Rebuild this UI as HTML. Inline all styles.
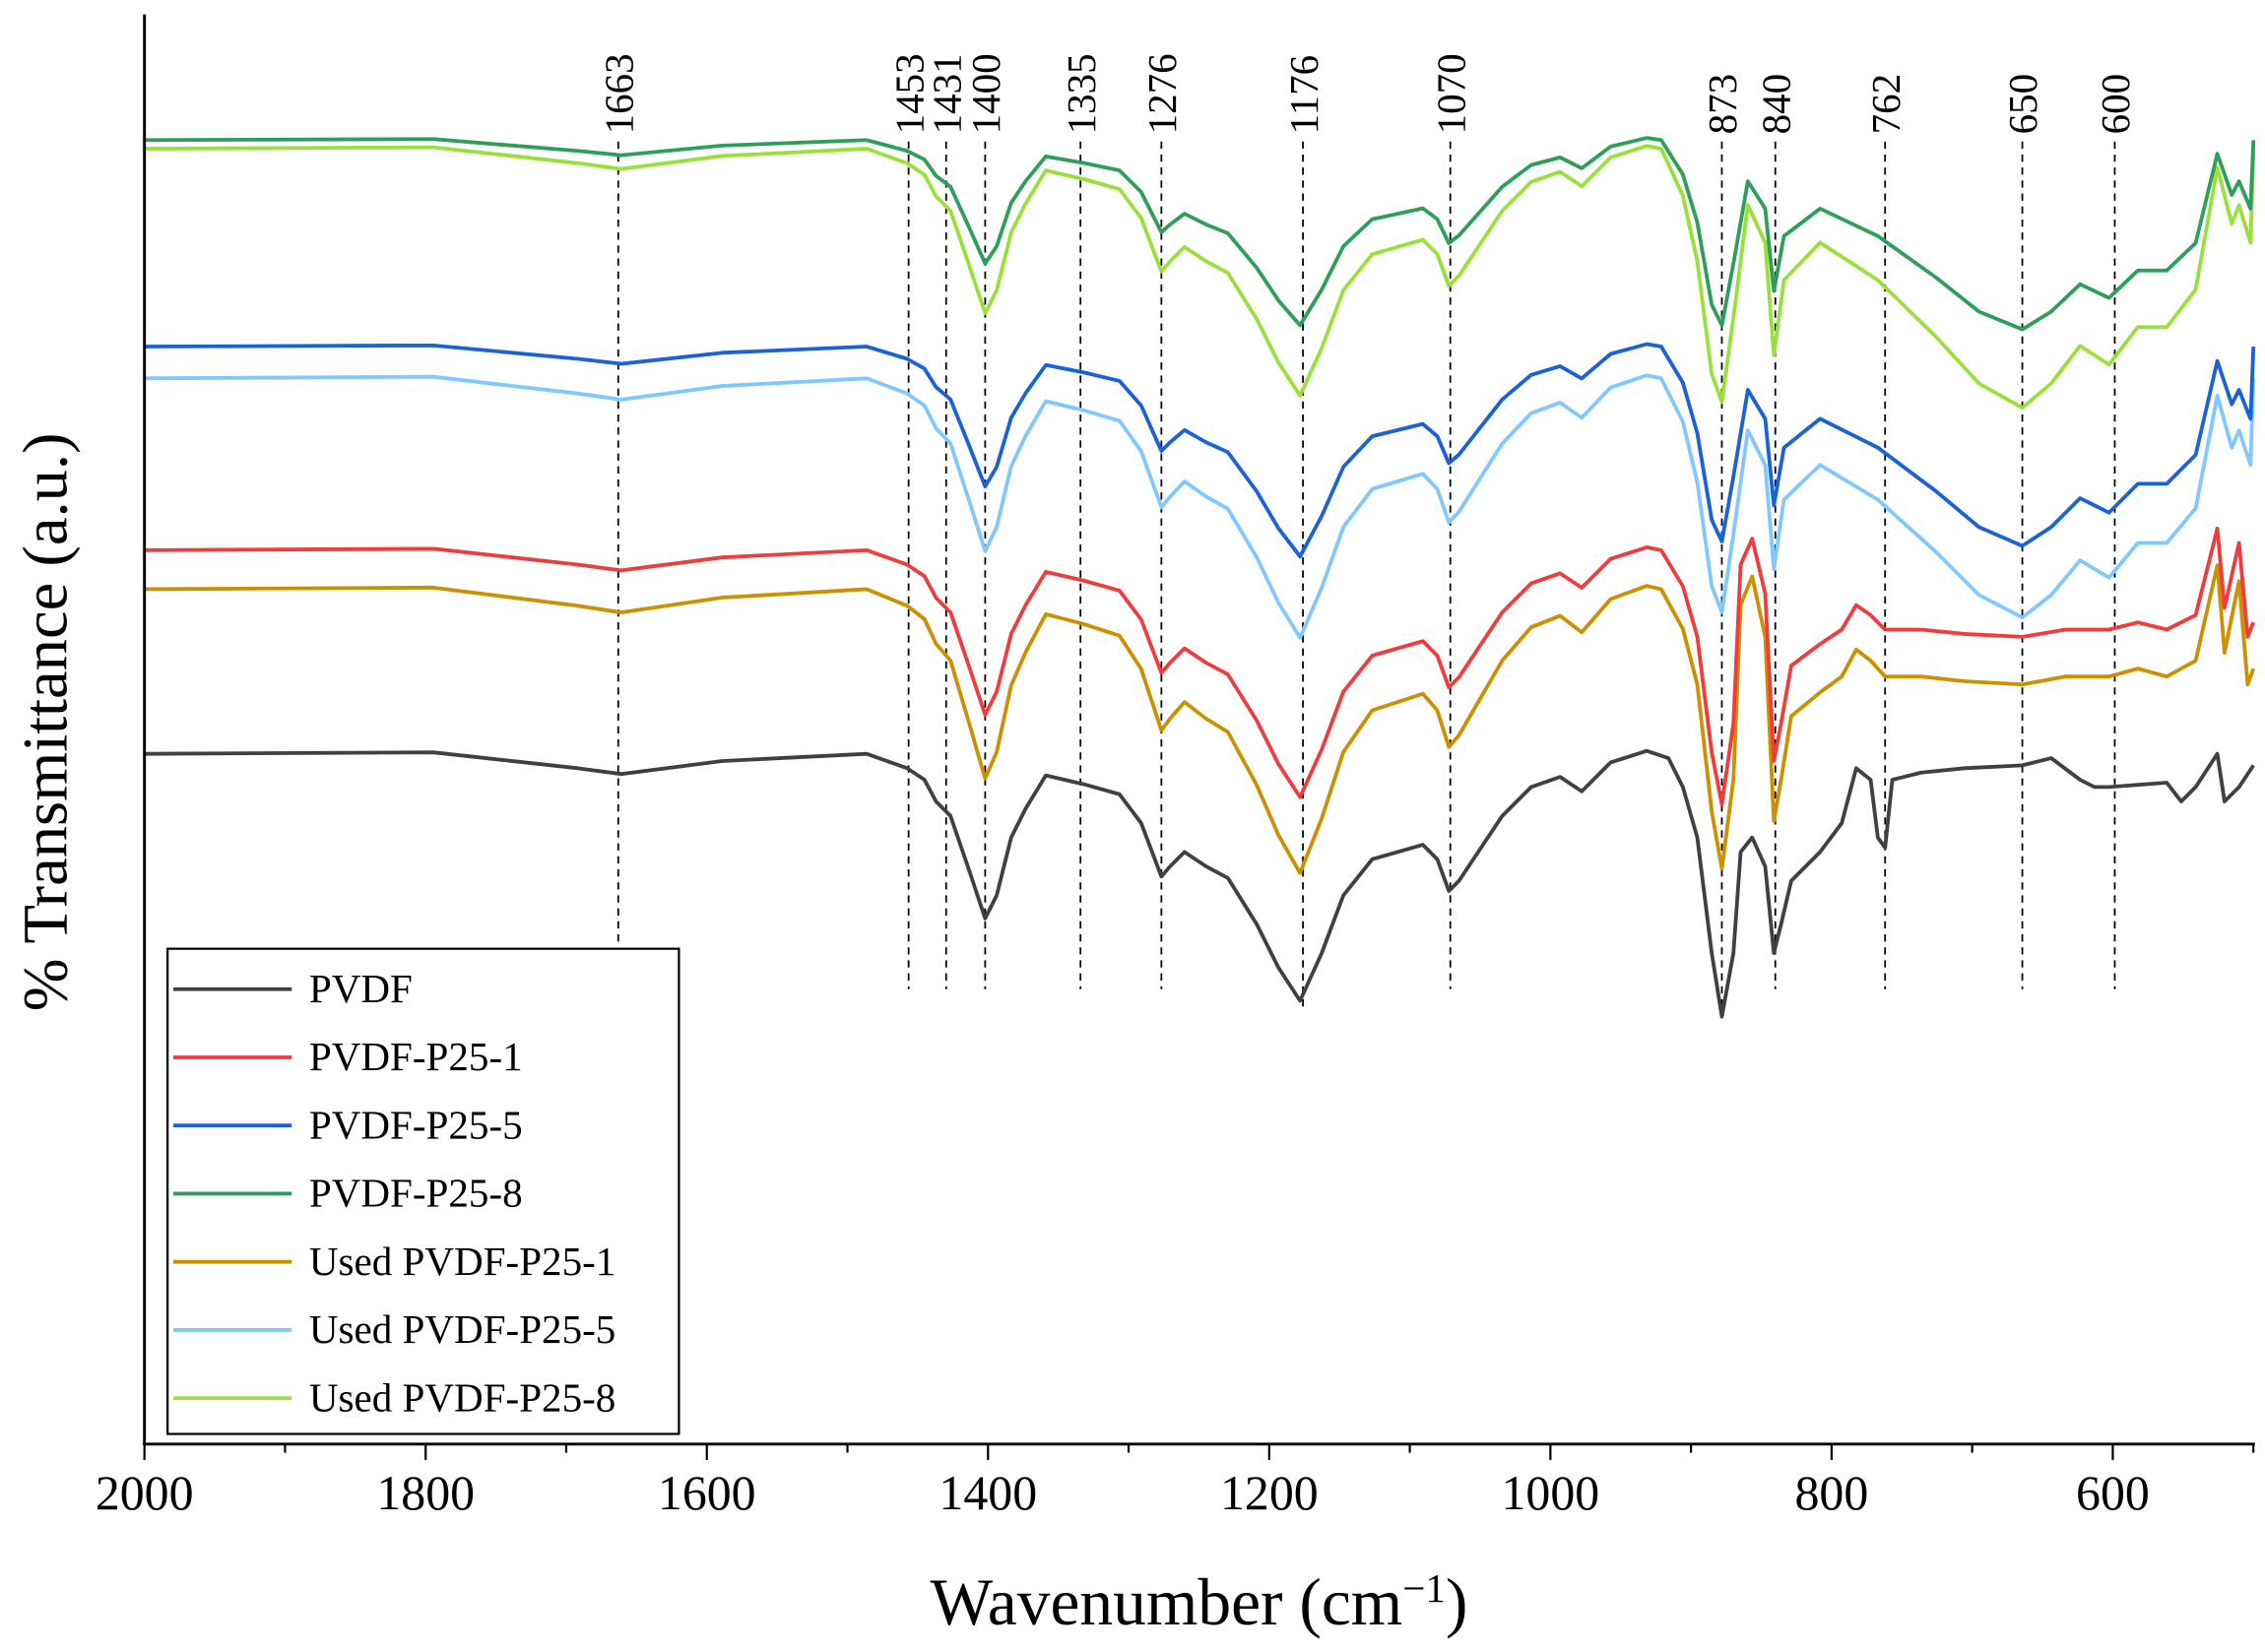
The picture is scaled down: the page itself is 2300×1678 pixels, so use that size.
<!DOCTYPE html>
<html><head><meta charset="utf-8"><style>
html,body{margin:0;padding:0;background:#fff;}
svg{display:block;}
text{font-family:"Liberation Serif",serif;fill:#000;}
</style></head><body>
<svg id="s" width="2300" height="1678" viewBox="0 0 1568 1144" preserveAspectRatio="none" xmlns="http://www.w3.org/2000/svg">
<g id="dash"></g>
<g id="curves" fill="none" stroke-width="2.6" stroke-linejoin="round"></g>
<line x1="100" y1="10" x2="100" y2="1000" stroke="#000" stroke-width="2"/>
<line x1="99" y1="1000" x2="1561" y2="1000" stroke="#000" stroke-width="2"/>
<g id="ticks"></g>
<text x="0" y="0" font-size="44" text-anchor="middle" transform="translate(46,500) rotate(-90)">% Transmittance (a.u.)</text>
<text x="830" y="1125" font-size="46" text-anchor="middle">Wavenumber (cm<tspan baseline-shift="super" font-size="28">−1</tspan>)</text>
<rect x="116" y="657" width="354" height="336" fill="#fff" stroke="#000" stroke-width="1.5"/>
<g id="legend"></g>
</svg>
<script>
var NS="http://www.w3.org/2000/svg";
function el(p,t,a,txt){var e=document.createElementNS(NS,t);for(var k in a)e.setAttribute(k,a[k]);if(txt!=null)e.textContent=txt;p.appendChild(e);return e;}
function X(w){return 100+(2000-w)*0.9733;}
var tk=document.getElementById('ticks');
for(var w=2000;w>=500;w-=100){var x=X(w);var maj=(w%200==0);
 el(tk,'line',{x1:x,y1:1000,x2:x,y2:maj?1011:1006,stroke:'#000','stroke-width':1.5});
 if(maj)el(tk,'text',{x:x,y:1045,'font-size':34,'text-anchor':'middle'},String(w));}
var peaks=[[1663,428,655],[1453,629,685],[1431,655,685],[1400,682,685],[1335,748,685],[1276,804,685],[1176,902,700],[1070,1004,685],[873,1192,700],[840,1229,685],[762,1305,685],[650,1400,685],[600,1464,685]];
var dg=document.getElementById('dash');
peaks.forEach(function(p){
 el(dg,'line',{x1:p[1],y1:98,x2:p[1],y2:p[2],stroke:'#000','stroke-width':1.2,'stroke-dasharray':'5,4'});
 el(dg,'text',{x:0,y:0,'font-size':28,transform:'translate('+(p[1]+10)+',93) rotate(-90)'},String(p[0]));
});
var pv=[[100,522],[300,521],[400,532],[430,536],[500,527],[600,522],[628,532],[640,540],[648,555],[658,565],[670,600],[682,636],[690,620],[700,580],[710,560],[724,537],[750,543],[775,550],[790,570],[804,607],[810,600],[820,590],[835,600],[850,608],[870,640],[885,670],[900,693],[915,660],[930,620],[950,595],[985,585],[995,595],[1003,617],[1010,610],[1020,595],[1040,565],[1060,545],[1080,538],[1095,548],[1105,538],[1115,528],[1140,520]];
var pvTail=[[1155,525],[1165,545],[1175,580],[1185,660],[1192,704],[1200,660],[1205,590],[1213,580],[1222,600],[1228,660],[1233,640],[1240,610],[1260,590],[1275,570],[1285,532],[1295,540],[1300,580],[1305,587],[1310,540],[1330,535],[1360,532],[1400,530],[1420,525],[1440,540],[1450,545],[1460,545],[1500,542],[1510,555],[1520,545],[1535,522],[1540,555],[1550,545],[1560,530]];
var redT=[[1150,0],[1165,25],[1175,60],[1185,140],[1192,176],[1200,120],[1205,10],[1213,-8],[1222,30],[1228,146],[1233,120],[1240,80],[1260,65],[1275,55],[1285,38],[1295,45],[1305,55],[1330,55],[1360,58],[1400,60],[1430,55],[1460,55],[1480,50],[1500,55],[1520,45],[1535,-15],[1540,40],[1550,-5],[1556,60],[1560,50]];
var blueT=[[1150,0],[1165,25],[1175,60],[1185,120],[1192,135],[1200,90],[1210,30],[1222,50],[1228,110],[1235,70],[1260,50],[1300,70],[1340,100],[1370,125],[1400,138],[1420,125],[1440,105],[1460,115],[1480,95],[1500,95],[1520,75],[1535,10],[1545,40],[1550,30],[1558,50],[1560,0]];
function build(base,s,tail,ts){var pts=pv.map(function(p){return [p[0],base+s*(p[1]-522)];});
 tail.forEach(function(p){pts.push([p[0],base+ts*p[1]]);});return pts;}
var series=[
 ['PVDF','#404040',pv.concat(pvTail)],
 ['PVDF-P25-1','#f03c3c',build(381,1.0,redT,1.0)],
 ['PVDF-P25-5','#1a62d6',build(240,0.85,blueT,1.0)],
 ['PVDF-P25-8','#2e9e5a',build(97,0.75,blueT,0.95)],
 ['Used PVDF-P25-1','#cc9000',build(408,1.15,redT,1.1)],
 ['Used PVDF-P25-5','#80c8ff',build(262,1.05,blueT,1.2)],
 ['Used PVDF-P25-8','#99e03a',build(103,1.0,blueT,1.3)]];
var cg=document.getElementById('curves');
var order=[5,6,4,0,1,2,3];
order.forEach(function(i){var sr=series[i];
 el(cg,'polyline',{points:sr[2].map(function(p){return p[0]+','+p[1].toFixed(1);}).join(' '),stroke:sr[1]});});
var lg=document.getElementById('legend');
series.forEach(function(sr,i){var y=685+i*47.2;
 el(lg,'line',{x1:120,y1:y,x2:202,y2:y,stroke:sr[1],'stroke-width':2.6});
 el(lg,'text',{x:214,y:y+9,'font-size':28},sr[0]);});
</script>
</body></html>
